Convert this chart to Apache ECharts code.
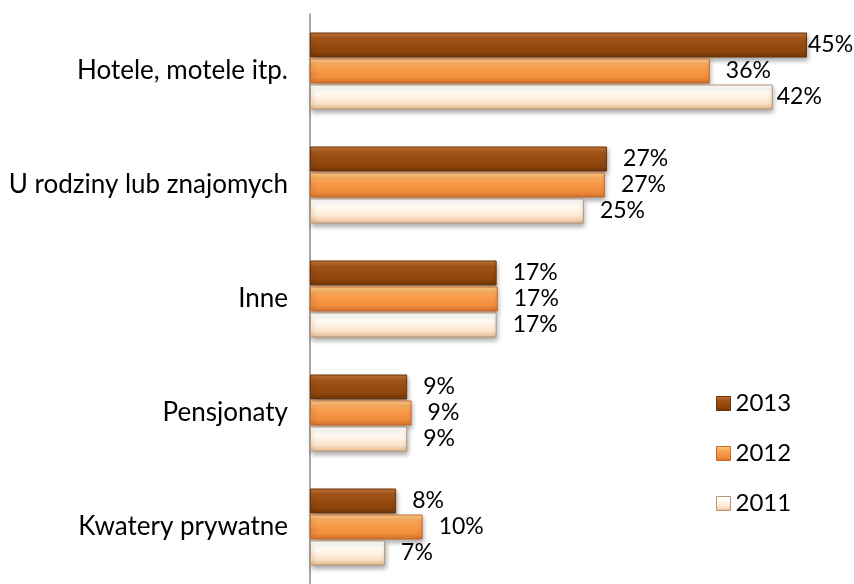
<!DOCTYPE html>
<html lang="pl">
<head>
    <meta charset="UTF-8">
    <title>Noclegi</title>
    <style type="text/css">
        html, body { margin: 0; padding: 0; background: #fff; }
        #chart { width: 854px; height: 584px; }
    </style>
    <script src="https://cdn.jsdelivr.net/npm/echarts@6/dist/echarts.min.js"></script>
</head>
<body>
<div id="chart"></div>
<script type="application/javascript">
    // categories, top to bottom
    var categories = ['Hotele, motele itp.', 'U rodziny lub znajomych', 'Inne', 'Pensjonaty', 'Kwatery prywatne'];
    var years = ['2013', '2012', '2011'];

    // values in %
    var values2013 = [45.0, 26.9, 16.9, 8.8, 7.8];
    var values2012 = [36.2, 26.7, 17.0, 9.2, 10.2];
    var values2011 = [41.9, 24.8, 16.9, 8.8, 6.8];

    var font = 'Lato';

    function grad(stops) {
        return new echarts.graphic.LinearGradient(0, 0, 0, 1, stops.map(function (c, i) {
            return { offset: i / (stops.length - 1), color: c };
        }));
    }

    var looks = [
        { fill: grad(['#c77838', '#a4561a', '#974b0f', '#8f460c', '#6c3306']), border: '#6b3408' },
        { fill: grad(['#ffd28e', '#fba95a', '#f79646', '#f28e3d', '#d0702a']), border: '#c8692a' },
        { fill: grad(['#ffffff', '#fffdf8', '#fff3e4', '#fbe2c8', '#e6b88e']), border: '#b79676' }
    ];

    // label nudges where the original put the text closer to the bar end
    var labelDistance = { '0-0': 1, '2-0': 4 };

    function buildSeries(name, vals, s) {
        return {
            name: name,
            type: 'bar',
            barWidth: 25,
            barGap: '4%',
            barCategoryGap: '33%',
            itemStyle: {
                color: looks[s].fill,
                borderColor: looks[s].border,
                borderWidth: 1,
                shadowColor: 'rgba(0,0,0,0.35)',
                shadowBlur: 5,
                shadowOffsetX: 1,
                shadowOffsetY: 3
            },
            label: {
                show: true,
                position: 'right',
                distance: 16,
                color: '#000',
                fontFamily: font,
                fontSize: 23,
                formatter: function (p) { return Math.round(p.value) + '%'; }
            },
            data: vals.map(function (v, i) {
                var d = labelDistance[s + '-' + i];
                return d === undefined ? v : { value: v, label: { distance: d } };
            })
        };
    }

    var chart = echarts.init(document.getElementById('chart'));
    chart.setOption({
        animation: false,
        textStyle: { fontFamily: font },
        legend: {
            orient: 'vertical',
            left: 711,
            top: 386,
            itemWidth: 14,
            itemHeight: 14,
            itemGap: 25,
            icon: 'rect',
            textStyle: { fontFamily: font, fontSize: 24, color: '#000', lineHeight: 25 },
            data: years.map(function (y, i) {
                return { name: y, itemStyle: { color: looks[i].fill, borderColor: looks[i].border, borderWidth: 1 } };
            })
        },
        grid: {
            left: 310,
            top: 14,
            width: 497,
            bottom: -11,
            containLabel: false
        },
        xAxis: {
            type: 'value',
            min: 0,
            max: 45,
            show: false
        },
        yAxis: {
            type: 'category',
            inverse: true,
            data: categories,
            axisLine: { show: true, lineStyle: { color: '#8a8a8a', width: 1.5 } },
            axisTick: { show: false },
            axisLabel: { margin: 22, color: '#000', fontFamily: font, fontSize: 26 }
        },
        series: [
            buildSeries(years[0], values2013, 0),
            buildSeries(years[1], values2012, 1),
            buildSeries(years[2], values2011, 2)
        ]
    });
</script>
</body>
</html>
